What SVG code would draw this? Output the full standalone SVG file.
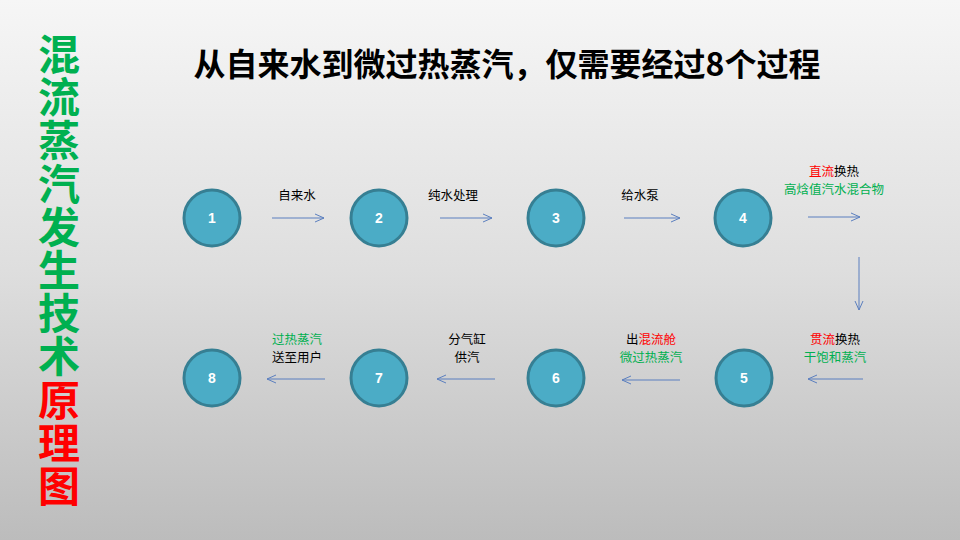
<svg xmlns="http://www.w3.org/2000/svg" width="960" height="540" viewBox="0 0 960 540">
<defs>
<linearGradient id="bg" x1="0" y1="0" x2="0" y2="1">
<stop offset="0" stop-color="#f6f6f6"/>
<stop offset="0.5" stop-color="#dedede"/>
<stop offset="1" stop-color="#bcbcbc"/>
</linearGradient>
<marker id="ah" markerWidth="12" markerHeight="10" refX="10" refY="5" orient="auto" markerUnits="userSpaceOnUse">
<path d="M1,1 L10,5 L1,9" fill="none" stroke="#5b7fbf" stroke-width="1"/>
</marker>
<style>
.node circle{fill:#4bacc6;stroke:#367f93;stroke-width:3}
.num{font-family:"Liberation Sans",Arial,sans-serif;font-weight:bold;font-size:14px;fill:#fff;text-anchor:middle}
.lbl{font-family:"Noto Sans CJK SC","Microsoft YaHei",sans-serif;font-size:12.5px;fill:#000;text-anchor:middle}
.g{fill:#00b050}
.r{fill:#ff0000}
.conn line{stroke:#5b7fbf;stroke-width:1;marker-end:url(#ah)}
.side{font-family:"Noto Sans CJK SC",sans-serif;font-weight:bold;font-size:42px;writing-mode:vertical-rl;letter-spacing:1.2px}
</style>
</defs>
<rect width="960" height="540" fill="url(#bg)"/>
<text id="title" x="507" y="76" font-family="Noto Sans CJK SC,sans-serif" font-weight="bold" font-size="32" text-anchor="middle" fill="#000">从自来水到微过热蒸汽，仅需要经过8个过程</text>
<g id="side-title">
<text class="side" x="59" y="33"><tspan class="g">混流蒸汽发生技术</tspan><tspan class="r">原理图</tspan></text>
</g>
<g id="connectors" class="conn">
<line x1="272" y1="218" x2="324" y2="218"/>
<line x1="440" y1="218" x2="492" y2="218"/>
<line x1="624" y1="218" x2="680" y2="218"/>
<line x1="808" y1="217" x2="860" y2="217"/>
<line x1="859" y1="257" x2="859" y2="310"/>
<line x1="863" y1="379" x2="808" y2="379"/>
<line x1="680" y1="380" x2="622" y2="380"/>
<line x1="495" y1="379" x2="437" y2="379"/>
<line x1="325" y1="379" x2="267" y2="379"/>
</g>
<g id="n1" class="node"><circle cx="212" cy="218" r="28"/><text class="num" x="212" y="223">1</text></g>
<g id="n2" class="node"><circle cx="379" cy="218" r="28"/><text class="num" x="379" y="223">2</text></g>
<g id="n3" class="node"><circle cx="556" cy="218" r="28"/><text class="num" x="556" y="223">3</text></g>
<g id="n4" class="node"><circle cx="743" cy="218" r="28"/><text class="num" x="743" y="223">4</text></g>
<g id="n5" class="node"><circle cx="744" cy="378" r="28"/><text class="num" x="744" y="383">5</text></g>
<g id="n6" class="node"><circle cx="556" cy="378" r="28"/><text class="num" x="556" y="383">6</text></g>
<g id="n7" class="node"><circle cx="379" cy="378" r="28"/><text class="num" x="379" y="383">7</text></g>
<g id="n8" class="node"><circle cx="212" cy="378" r="28"/><text class="num" x="212" y="383">8</text></g>
<g id="labels" class="lbl">
<text x="297" y="199.5">自来水</text>
<text x="453" y="199.5">纯水处理</text>
<text x="640" y="199.5">给水泵</text>
<text x="834" y="176"><tspan class="r">直流</tspan>换热</text>
<text x="834" y="194.4" class="g">高焓值汽水混合物</text>
<text x="835" y="343.6"><tspan class="r">贯流</tspan>换热</text>
<text x="835" y="362" class="g">干饱和蒸汽</text>
<text x="651" y="343.6">出<tspan class="r">混流舱</tspan></text>
<text x="651" y="362" class="g">微过热蒸汽</text>
<text x="467" y="343.6">分气缸</text>
<text x="467" y="362">供汽</text>
<text x="297" y="343.6" class="g">过热蒸汽</text>
<text x="297" y="362">送至用户</text>
</g>
</svg>
